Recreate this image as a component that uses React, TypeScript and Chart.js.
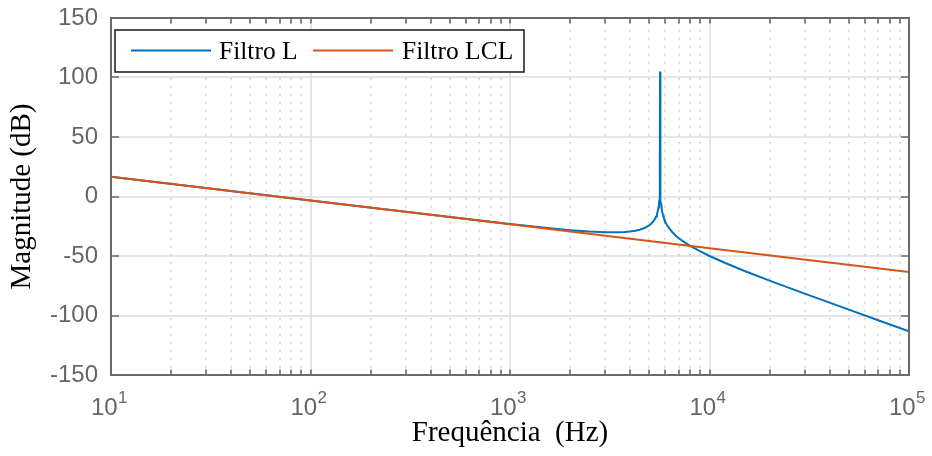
import React, { useEffect, useRef } from 'react';
import { Chart, registerables } from 'chart.js';
Chart.register(...registerables);

// ---- data ----
const seriesNames = ['Filtro L', 'Filtro LCL'];
const seriesColors = ['#0072BD', '#D95319'];

const freqL = [10, 100, 300, 1000, 1500, 2000, 2500, 3000, 3500, 3750, 4000, 4250, 4500, 4750, 5000, 5100, 5200, 5300, 5400, 5450, 5500, 5550, 5580, 5600, 5620, 5640, 5645, 5650, 5655, 5660, 5680, 5700, 5720, 5750, 5800, 5850, 5900, 6000, 6100, 6200, 6500, 6800, 7000, 7500, 8000, 9000, 10000, 12000, 15000, 20000, 30000, 50000, 70000, 100000];
const magL = [16.6, -3.4, -12.9, -23.1, -26.3, -28.3, -29.5, -30.1, -30.1, -29.8, -29.4, -28.7, -27.7, -26.3, -24.1, -22.9, -21.4, -19.5, -16.8, -15.0, -12.6, -9.2, -6.2, -3.3, 1.1, 10.6, 16.6, 105, 16.6, 10.5, 1.0, -3.5, -6.5, -9.7, -13.3, -15.9, -17.9, -21.1, -23.5, -25.4, -29.9, -33.1, -34.9, -38.5, -41.5, -46.2, -50.0, -55.9, -62.6, -70.7, -81.6, -95.1, -104.0, -113.3];

const freqLCL = [10, 100, 1000, 10000, 100000];
const magLCL = [16.6, -3.4, -23.4, -43.4, -63.4];

const xDecades = [10, 100, 1000, 10000, 100000];
const xExponents = ['1', '2', '3', '4', '5'];
const xMinorMultipliers = [2, 3, 4, 5, 6, 7, 8, 9];
const yTickValues = [-150, -100, -50, 0, 50, 100, 150];

const xTitle = 'Frequência  (Hz)';
const yTitle = 'Magnitude (dB)';

const W = 932;
const H = 456;
const TICK_GRAY = '#666666';
const FRAME = '#6a6a6a';

const bodePlugin = {
  id: 'bodeDecor',
  beforeDatasetsDraw(chart: any) {
    const { ctx, chartArea: a, scales } = chart;
    const x = scales.x;
    const y = scales.y;
    ctx.save();
    // minor dotted grid (x only)
    ctx.strokeStyle = '#c2c2c2';
    ctx.lineWidth = 1.5;
    ctx.setLineDash([1.5, 6.5]);
    for (let i = 0; i < xDecades.length - 1; i++) {
      for (const m of xMinorMultipliers) {
        const px = Math.round(x.getPixelForValue(xDecades[i] * m));
        ctx.beginPath();
        ctx.moveTo(px, a.top + 4);
        ctx.lineTo(px, a.bottom);
        ctx.stroke();
      }
    }
    // major grid
    ctx.setLineDash([]);
    ctx.strokeStyle = '#dedede';
    ctx.lineWidth = 1.5;
    for (const v of xDecades) {
      const px = Math.round(x.getPixelForValue(v));
      ctx.beginPath();
      ctx.moveTo(px, a.top);
      ctx.lineTo(px, a.bottom);
      ctx.stroke();
    }
    for (const v of yTickValues) {
      const py = Math.round(y.getPixelForValue(v));
      ctx.beginPath();
      ctx.moveTo(a.left, py);
      ctx.lineTo(a.right, py);
      ctx.stroke();
    }
    ctx.restore();
  },
  afterDatasetsDraw(chart: any) {
    const { ctx, chartArea: a, scales } = chart;
    const x = scales.x;
    const y = scales.y;
    ctx.save();
    // ticks (inside, all four sides)
    ctx.strokeStyle = FRAME;
    ctx.lineWidth = 1.6;
    const xTickVals: number[] = [];
    for (let i = 0; i < xDecades.length; i++) {
      xTickVals.push(xDecades[i]);
      if (i < xDecades.length - 1) for (const m of xMinorMultipliers) xTickVals.push(xDecades[i] * m);
    }
    for (const v of xTickVals) {
      const px = Math.round(x.getPixelForValue(v));
      ctx.beginPath();
      ctx.moveTo(px, a.bottom);
      ctx.lineTo(px, a.bottom - 5.5);
      ctx.moveTo(px, a.top);
      ctx.lineTo(px, a.top + 5.5);
      ctx.stroke();
    }
    for (const v of yTickValues) {
      const py = Math.round(y.getPixelForValue(v));
      ctx.beginPath();
      ctx.moveTo(a.left, py);
      ctx.lineTo(a.left + 8, py);
      ctx.moveTo(a.right, py);
      ctx.lineTo(a.right - 8, py);
      ctx.stroke();
    }
    // frame
    ctx.lineWidth = 2;
    ctx.strokeRect(a.left, a.top, a.right - a.left, a.bottom - a.top);

    // x tick labels 10^n
    ctx.fillStyle = TICK_GRAY;
    ctx.textBaseline = 'alphabetic';
    ctx.textAlign = 'left';
    for (let i = 0; i < xDecades.length; i++) {
      const px = x.getPixelForValue(xDecades[i]);
      ctx.font = '24px "Liberation Sans", Arial, sans-serif';
      const wb = ctx.measureText('10').width;
      ctx.font = '17px "Liberation Sans", Arial, sans-serif';
      const we = ctx.measureText(xExponents[i]).width;
      const start = px - 2 - (wb + we) / 2;
      ctx.font = '24px "Liberation Sans", Arial, sans-serif';
      ctx.fillText('10', start, 415);
      ctx.font = '17px "Liberation Sans", Arial, sans-serif';
      ctx.fillText(xExponents[i], start + wb + 0.5, 403);
    }

    // legend
    const lx = 115, ly = 30, lw = 409, lh = 42;
    ctx.fillStyle = '#ffffff';
    ctx.fillRect(lx, ly, lw, lh);
    ctx.strokeStyle = '#262626';
    ctx.lineWidth = 1.6;
    ctx.strokeRect(lx, ly, lw, lh);
    const lineStarts = [131, 313];
    const textStarts = [219, 402];
    ctx.font = '25.5px "Liberation Serif", "Times New Roman", serif';
    ctx.textBaseline = 'alphabetic';
    for (let i = 0; i < seriesNames.length; i++) {
      ctx.strokeStyle = seriesColors[i];
      ctx.lineWidth = 2;
      ctx.beginPath();
      ctx.moveTo(lineStarts[i], 50.5);
      ctx.lineTo(lineStarts[i] + 80, 50.5);
      ctx.stroke();
      ctx.fillStyle = '#000000';
      ctx.fillText(seriesNames[i], textStarts[i], 59);
    }
    ctx.restore();
  },
};

export default function App() {
  const canvasRef = useRef<HTMLCanvasElement | null>(null);

  useEffect(() => {
    document.body.style.margin = '0';
    const canvas = canvasRef.current;
    if (!canvas) return;
    const chart = new Chart(canvas, {
      type: 'line',
      data: {
        datasets: [
          {
            label: seriesNames[0],
            data: freqL.map((f, i) => ({ x: f, y: magL[i] })),
            borderColor: seriesColors[0],
            borderWidth: 2,
            pointRadius: 0,
            tension: 0,
            fill: false,
            order: 1,
          },
          {
            label: seriesNames[1],
            data: freqLCL.map((f, i) => ({ x: f, y: magLCL[i] })),
            borderColor: seriesColors[1],
            borderWidth: 2,
            pointRadius: 0,
            tension: 0,
            fill: false,
            order: 0,
          },
        ],
      },
      options: {
        animation: false,
        responsive: false,
        maintainAspectRatio: false,
        devicePixelRatio: 1,
        layout: { padding: { left: 0, top: 18, right: W - 909, bottom: 0 } },
        plugins: { legend: { display: false }, tooltip: { enabled: false } },
        scales: {
          x: {
            type: 'logarithmic',
            min: 10,
            max: 100000,
            grid: { display: false, drawTicks: false },
            border: { display: false },
            ticks: { display: false },
            title: {
              display: true,
              text: xTitle,
              color: '#000000',
              font: { family: '"Liberation Serif", "Times New Roman", serif', size: 29 },
              padding: { top: 0, bottom: 5.5 },
            },
            afterFit: (s: any) => {
              s.height = H - 375;
              s.paddingLeft = 0;
              s.paddingRight = 0;
            },
          },
          y: {
            type: 'linear',
            min: -150,
            max: 150,
            grid: { display: false, drawTicks: false },
            border: { display: false },
            ticks: {
              stepSize: 50,
              color: TICK_GRAY,
              padding: 13,
              font: { family: '"Liberation Sans", Arial, sans-serif', size: 24 },
            },
            title: {
              display: true,
              text: yTitle,
              color: '#000000',
              font: { family: '"Liberation Serif", "Times New Roman", serif', size: 29 },
              padding: { top: 5, bottom: 0 },
            },
            afterFit: (s: any) => {
              s.width = 111;
              s.paddingTop = 0;
              s.paddingBottom = 0;
            },
          },
        },
      },
      plugins: [bodePlugin],
    });
    return () => chart.destroy();
  }, []);

  return (
    <div style={{ width: W, height: H, background: '#ffffff' }}>
      <canvas ref={canvasRef} width={W} height={H} style={{ display: 'block' }} />
    </div>
  );
}
